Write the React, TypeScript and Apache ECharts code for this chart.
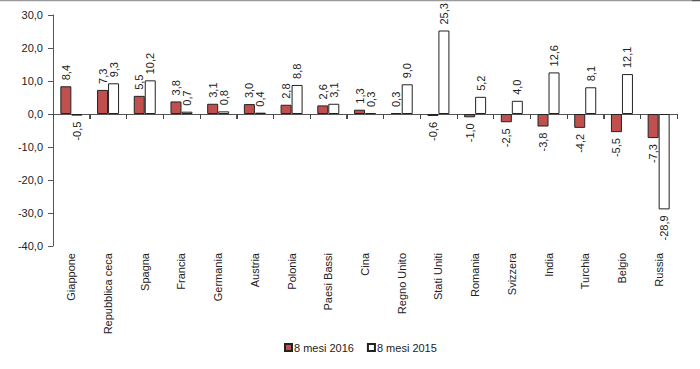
import React, { useEffect, useRef } from "react";
import * as echarts from "echarts";

const categories = [
  "Giappone", "Repubblica ceca", "Spagna", "Francia", "Germania", "Austria",
  "Polonia", "Paesi Bassi", "Cina", "Regno Unito", "Stati Uniti", "Romania",
  "Svizzera", "India", "Turchia", "Belgio", "Russia",
];
const values2016 = [8.4, 7.3, 5.5, 3.8, 3.1, 3.0, 2.8, 2.6, 1.3, 0.3, -0.6, -1.0, -2.5, -3.8, -4.2, -5.5, -7.3];
const values2015 = [-0.5, 9.3, 10.2, 0.7, 0.8, 0.4, 8.8, 3.1, 0.3, 9.0, 25.3, 5.2, 4.0, 12.6, 8.1, 12.1, -28.9];
const seriesNames = ["8 mesi 2016", "8 mesi 2015"];
const yMin = -40;
const yMax = 30;
const yStep = 10;

const FONT = "'Liberation Sans', Arial, sans-serif";
const fmt = (v: number) => v.toFixed(1).replace(".", ",");

function labelled(values: number[]) {
  return values.map((v) => ({
    value: v,
    label:
      v >= 0
        ? { position: "top", align: "left", verticalAlign: "middle", rotate: 90, distance: 6 }
        : { position: "bottom", align: "right", verticalAlign: "middle", rotate: 90, distance: 6 },
  }));
}

export default function App() {
  const ref = useRef<HTMLDivElement>(null);
  useEffect(() => {
    if (!ref.current) return;
    const chart = echarts.init(ref.current, undefined, { renderer: "svg" });
    const labelBase = {
      show: true,
      fontFamily: FONT,
      fontSize: 11,
      color: "#222",
      formatter: (p: any) => fmt(p.value),
    };
    const borderLines = [
      { type: "line", z: 10, shape: { x1: 0, y1: 0.5, x2: 692, y2: 0.5 }, style: { stroke: "#9a9a9a", lineWidth: 1.5 } },
      { type: "line", z: 10, shape: { x1: 692, y1: 0.5, x2: 700, y2: 0.5 }, style: { stroke: "#555", lineWidth: 1.5 } },
    ];
    chart.setOption({
      animation: false,
      backgroundColor: "#fff",
      grid: { left: 53, right: 23, top: 15, bottom: 123, containLabel: false },
      legend: {
        data: seriesNames,
        bottom: 11,
        left: 279,
        itemWidth: 7,
        itemHeight: 7,
        itemGap: 13,
        icon: "rect",
        textStyle: { fontFamily: FONT, fontSize: 11, color: "#222", padding: [0, 0, 0, -3] },
      },
      graphic: borderLines,
      xAxis: [
        {
          type: "category",
          data: categories,
          position: "bottom",
          boundaryGap: true,
          axisLine: { show: true, onZero: true, lineStyle: { color: "#555", width: 1 } },
          axisTick: { show: true, interval: 0, length: 5, lineStyle: { color: "#555", width: 1 } },
          axisLabel: { show: false },
          splitLine: { show: false },
        },
        {
          type: "category",
          data: categories,
          position: "bottom",
          axisLine: { show: false, onZero: false },
          axisTick: { show: false },
          axisLabel: {
            show: true,
            interval: 0,
            rotate: 90,
            margin: 7,
            fontFamily: FONT,
            fontSize: 11,
            color: "#222",
          },
          splitLine: { show: false },
        },
      ],
      yAxis: {
        type: "value",
        min: yMin,
        max: yMax,
        interval: yStep,
        axisLine: { show: true, lineStyle: { color: "#555", width: 1 } },
        axisTick: { show: true, length: 5, lineStyle: { color: "#555" } },
        axisLabel: { formatter: (v: number) => fmt(v), fontFamily: FONT, fontSize: 11, color: "#222", margin: 10 },
        splitLine: { show: false },
      },
      series: [
        {
          name: seriesNames[0],
          type: "bar",
          xAxisIndex: 0,
          data: labelled(values2016),
          barWidth: 11,
          barGap: "0%",
          itemStyle: { color: "#C0504D", borderColor: "#222", borderWidth: 1 },
          label: labelBase,
        },
        {
          name: seriesNames[1],
          type: "bar",
          xAxisIndex: 0,
          data: labelled(values2015),
          barWidth: 11,
          barGap: "0%",
          itemStyle: { color: "#ffffff", borderColor: "#222", borderWidth: 1 },
          label: labelBase,
        },
      ],
    });

    // Category-boundary ticks on the zero line, placed through the chart's own scales
    try {
      const n = categories.length;
      const centers: number[] = [];
      let yZero = 0;
      for (let i = 0; i < n; i++) {
        const pt = chart.convertToPixel({ gridIndex: 0 } as any, [i, 0]) as unknown as number[];
        centers.push(pt[0]);
        yZero = pt[1];
      }
      const half = (centers[1] - centers[0]) / 2;
      const xs = centers.map((c) => c - half);
      xs.push(centers[n - 1] + half);
      const y0 = Math.round(yZero);
      const ticks = xs
        .filter((x) => isFinite(x) && isFinite(y0))
        .map((x) => {
          const xx = Math.round(x) + 0.5;
          return {
            type: "line",
            z: 10,
            silent: true,
            shape: { x1: xx, y1: y0, x2: xx, y2: y0 + 5 },
            style: { stroke: "#444", lineWidth: 1 },
          };
        });
      chart.setOption({ graphic: [...borderLines, ...ticks] });
    } catch (e) {
      // keep chart without extra ticks
    }
    return () => chart.dispose();
  }, []);
  return (
    <div
      ref={ref}
      style={{ position: "fixed", left: 0, top: 0, width: 700, height: 369 }}
    />
  );
}
